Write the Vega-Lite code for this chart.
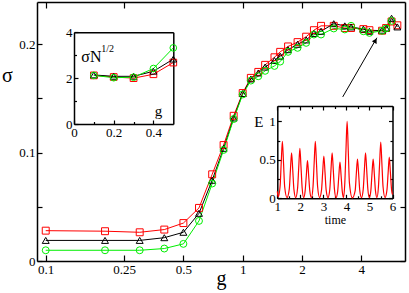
{
"$schema":"https://vega.github.io/schema/vega-lite/v6.json",
"width":368,"height":259,"autosize":"none",
"padding":{"left":37,"top":2,"right":4,"bottom":32},
"config":{"view":{"stroke":null},"font":"Liberation Serif, Times New Roman, serif","axis":{"grid":false,"labelFont":"Liberation Serif, Times New Roman, serif","titleFont":"Liberation Serif, Times New Roman, serif","labelFontSize":13,"labelColor":"#000","titleColor":"#000","titleFontWeight":"normal","domainColor":"#000","tickColor":"#000","domainWidth":1.5,"tickWidth":1.2,"labelFlush":false,"labelOverlap":false},"text":{"font":"Liberation Serif, Times New Roman, serif","color":"#000"}},
"datasets":{
"main":[
{"s":"R","g":0.1,"sigma":0.028},{"s":"R","g":0.2,"sigma":0.0275},{"s":"R","g":0.3,"sigma":0.0265},{"s":"R","g":0.4,"sigma":0.029},{"s":"R","g":0.5,"sigma":0.035},{"s":"R","g":0.6,"sigma":0.049},{"s":"R","g":0.7,"sigma":0.08},{"s":"R","g":0.8,"sigma":0.107},{"s":"R","g":0.9,"sigma":0.134},{"s":"R","g":1.0,"sigma":0.155},{"s":"R","g":1.1,"sigma":0.169},{"s":"R","g":1.2,"sigma":0.1745},{"s":"R","g":1.3,"sigma":0.181},{"s":"R","g":1.45,"sigma":0.188},{"s":"R","g":1.55,"sigma":0.193},{"s":"R","g":1.7,"sigma":0.198},{"s":"R","g":1.9,"sigma":0.202},{"s":"R","g":2.1,"sigma":0.207},{"s":"R","g":2.3,"sigma":0.213},{"s":"R","g":2.5,"sigma":0.217},{"s":"R","g":2.9,"sigma":0.217},{"s":"R","g":3.3,"sigma":0.215},{"s":"R","g":3.55,"sigma":0.215},{"s":"R","g":4.1,"sigma":0.214},{"s":"R","g":4.4,"sigma":0.213},{"s":"R","g":5.1,"sigma":0.2125},{"s":"R","g":5.35,"sigma":0.215},{"s":"R","g":5.7,"sigma":0.221},{"s":"R","g":6.1,"sigma":0.2175},
{"s":"B","g":0.1,"sigma":0.019},{"s":"B","g":0.2,"sigma":0.019},{"s":"B","g":0.3,"sigma":0.019},{"s":"B","g":0.4,"sigma":0.0215},{"s":"B","g":0.5,"sigma":0.0265},{"s":"B","g":0.6,"sigma":0.044},{"s":"B","g":0.7,"sigma":0.0745},{"s":"B","g":0.8,"sigma":0.104},{"s":"B","g":0.9,"sigma":0.132},{"s":"B","g":1.0,"sigma":0.1545},{"s":"B","g":1.1,"sigma":0.168},{"s":"B","g":1.2,"sigma":0.1735},{"s":"B","g":1.3,"sigma":0.179},{"s":"B","g":1.45,"sigma":0.185},{"s":"B","g":1.55,"sigma":0.189},{"s":"B","g":1.7,"sigma":0.195},{"s":"B","g":1.9,"sigma":0.2},{"s":"B","g":2.1,"sigma":0.204},{"s":"B","g":2.3,"sigma":0.21},{"s":"B","g":2.5,"sigma":0.212},{"s":"B","g":2.9,"sigma":0.219},{"s":"B","g":3.3,"sigma":0.217},{"s":"B","g":3.55,"sigma":0.216},{"s":"B","g":4.1,"sigma":0.214},{"s":"B","g":4.4,"sigma":0.212},{"s":"B","g":5.1,"sigma":0.213},{"s":"B","g":5.35,"sigma":0.215},{"s":"B","g":5.7,"sigma":0.224},{"s":"B","g":6.1,"sigma":0.216},
{"s":"G","g":0.1,"sigma":0.0099},{"s":"G","g":0.2,"sigma":0.0099},{"s":"G","g":0.3,"sigma":0.0099},{"s":"G","g":0.4,"sigma":0.0115},{"s":"G","g":0.5,"sigma":0.0158},{"s":"G","g":0.6,"sigma":0.037},{"s":"G","g":0.7,"sigma":0.0715},{"s":"G","g":0.8,"sigma":0.1025},{"s":"G","g":0.9,"sigma":0.131},{"s":"G","g":1.0,"sigma":0.1537},{"s":"G","g":1.1,"sigma":0.1665},{"s":"G","g":1.2,"sigma":0.1705},{"s":"G","g":1.3,"sigma":0.1755},{"s":"G","g":1.45,"sigma":0.18},{"s":"G","g":1.55,"sigma":0.184},{"s":"G","g":1.7,"sigma":0.193},{"s":"G","g":1.9,"sigma":0.1967},{"s":"G","g":2.1,"sigma":0.2013},{"s":"G","g":2.3,"sigma":0.209},{"s":"G","g":2.5,"sigma":0.209},{"s":"G","g":2.9,"sigma":0.2146},{"s":"G","g":3.3,"sigma":0.2137},{"s":"G","g":3.55,"sigma":0.217},{"s":"G","g":4.1,"sigma":0.212},{"s":"G","g":4.4,"sigma":0.2105},{"s":"G","g":5.1,"sigma":0.2124},{"s":"G","g":5.35,"sigma":0.2146},{"s":"G","g":5.7,"sigma":0.2216}
],
"ins":[
{"s":"R","g":0.1,"v":2.12},{"s":"R","g":0.2,"v":2.05},{"s":"R","g":0.3,"v":2.0},{"s":"R","g":0.4,"v":2.17},{"s":"R","g":0.5,"v":2.68},
{"s":"B","g":0.1,"v":2.14},{"s":"B","g":0.2,"v":2.08},{"s":"B","g":0.3,"v":2.08},{"s":"B","g":0.4,"v":2.3},{"s":"B","g":0.5,"v":2.83},
{"s":"G","g":0.1,"v":2.12},{"s":"G","g":0.2,"v":2.02},{"s":"G","g":0.3,"v":2.04},{"s":"G","g":0.4,"v":2.42},{"s":"G","g":0.5,"v":3.32}
],
"energy":[
{"t":1.0,"E":0.09},{"t":1.04,"E":0.02},{"t":1.12,"E":0.15},{"t":1.17,"E":0.46},{"t":1.22,"E":0.74},{"t":1.27,"E":0.46},{"t":1.32,"E":0.15},{"t":1.42,"E":0.01},
{"t":1.52,"E":0.12},{"t":1.57,"E":0.37},{"t":1.62,"E":0.59},{"t":1.67,"E":0.37},{"t":1.72,"E":0.12},{"t":1.8,"E":0.01},
{"t":1.88,"E":0.13},{"t":1.93,"E":0.4},{"t":1.98,"E":0.65},{"t":2.03,"E":0.4},{"t":2.08,"E":0.13},{"t":2.145,"E":0.01},
{"t":2.21,"E":0.1},{"t":2.26,"E":0.3},{"t":2.31,"E":0.49},{"t":2.36,"E":0.3},{"t":2.41,"E":0.1},{"t":2.48,"E":0.01},
{"t":2.55,"E":0.15},{"t":2.6,"E":0.46},{"t":2.65,"E":0.74},{"t":2.7,"E":0.46},{"t":2.75,"E":0.15},{"t":2.835,"E":0.01},
{"t":2.92,"E":0.11},{"t":2.97,"E":0.34},{"t":3.02,"E":0.55},{"t":3.07,"E":0.34},{"t":3.12,"E":0.11},{"t":3.2,"E":0.01},
{"t":3.28,"E":0.12},{"t":3.33,"E":0.37},{"t":3.38,"E":0.59},{"t":3.43,"E":0.37},{"t":3.48,"E":0.12},{"t":3.55,"E":0.01},
{"t":3.62,"E":0.09},{"t":3.67,"E":0.29},{"t":3.72,"E":0.47},{"t":3.77,"E":0.29},{"t":3.82,"E":0.09},{"t":3.875,"E":0.01},
{"t":3.93,"E":0.2},{"t":3.98,"E":0.62},{"t":4.03,"E":1.0},{"t":4.08,"E":0.62},{"t":4.13,"E":0.2},{"t":4.255,"E":0.005},
{"t":4.38,"E":0.1},{"t":4.43,"E":0.32},{"t":4.48,"E":0.51},{"t":4.53,"E":0.32},{"t":4.58,"E":0.1},{"t":4.655,"E":0.01},
{"t":4.73,"E":0.12},{"t":4.78,"E":0.37},{"t":4.83,"E":0.59},{"t":4.88,"E":0.37},{"t":4.93,"E":0.12},{"t":4.995,"E":0.01},
{"t":5.06,"E":0.1},{"t":5.11,"E":0.32},{"t":5.16,"E":0.51},{"t":5.21,"E":0.32},{"t":5.26,"E":0.1},{"t":5.325,"E":0.01},
{"t":5.39,"E":0.15},{"t":5.44,"E":0.45},{"t":5.49,"E":0.73},{"t":5.54,"E":0.45},{"t":5.59,"E":0.15},{"t":5.675,"E":0.01},
{"t":5.76,"E":0.11},{"t":5.81,"E":0.33},{"t":5.86,"E":0.535},{"t":5.91,"E":0.33},{"t":5.96,"E":0.11},{"t":6.0,"E":0.05}
]
},
"layer":[
{
"layer":[
{"data":{"name":"main"},"mark":{"type":"line","strokeWidth":1},
"encoding":{
"x":{"field":"g","type":"quantitative","scale":{"type":"log","domain":[0.0903,6.67],"nice":false},
"axis":{"orient":"bottom","values":[0.1,0.25,0.5,1,2,4],"format":"~g","tickSize":-6,"labelPadding":8,"title":"g","titleFontSize":20,"titleBaseline":"alphabetic","titleY":23}},
"y":{"field":"sigma","type":"quantitative","scale":{"domain":[0,0.239],"nice":false},
"axis":{"orient":"left","values":[0,0.05,0.1,0.15,0.2],"format":"~g","labelExpr":"datum.value==0||datum.value==0.1||datum.value==0.2?datum.label:''","tickSize":-5,"labelPadding":7,"title":"σ","titleFontSize":20,"titleAngle":0,"titleX":-30,"titleY":73,"titleAlign":"center","titleBaseline":"middle"}},
"color":{"field":"s","type":"nominal","scale":{"domain":["R","B","G"],"range":["#ff0000","#000000","#00ee00"]},"legend":null}}},
{"data":{"name":"main"},"mark":{"type":"point","filled":false,"strokeWidth":1,"opacity":1,"size":48},
"encoding":{
"x":{"field":"g","type":"quantitative","axis":{"orient":"top","values":[0.1,0.25,1,2,4],"labels":false,"tickSize":-6,"title":null}},
"y":{"field":"sigma","type":"quantitative","axis":{"orient":"right","values":[0,0.05,0.1,0.15,0.2],"labels":false,"tickSize":-5,"title":null}},
"color":{"field":"s","type":"nominal","legend":null},
"shape":{"field":"s","type":"nominal","scale":{"domain":["R","B","G"],"range":["square","triangle-up","circle"]},"legend":null}}},
{"data":{"values":[{"g1":3.22,"s1":0.1514,"g2":4.8,"s2":0.206}]},"mark":{"type":"rule","strokeWidth":1,"color":"#000"},
"encoding":{"x":{"field":"g1","type":"quantitative","axis":null},"y":{"field":"s1","type":"quantitative","axis":null},"x2":{"field":"g2"},"y2":{"field":"s2"}}},
{"data":{"values":[{"g":4.72,"sigma":0.2035}]},"mark":{"type":"point","shape":"triangle-up","angle":30,"size":30,"filled":true,"color":"#000","opacity":1},
"encoding":{"x":{"field":"g","type":"quantitative","axis":null},"y":{"field":"sigma","type":"quantitative","axis":null}}}
],
"resolve":{"axis":{"x":"independent","y":"independent"}}
},
{
"layer":[
{"data":{"name":"ins"},"mark":{"type":"line","strokeWidth":1},
"encoding":{
"x":{"field":"g","type":"quantitative","scale":{"domain":[0,0.5],"nice":false,"range":[37,136.3]},
"axis":{"orient":"bottom","offset":-137,"values":[0,0.1,0.2,0.3,0.4],"format":"~g","labelExpr":"datum.value==0||datum.value==0.2||datum.value==0.4?datum.label:''","tickSize":{"condition":{"test":"datum.value==0.1||datum.value==0.3","value":-2.5},"value":-4},"labelPadding":6,"title":null}},
"y":{"field":"v","type":"quantitative","scale":{"domain":[0,4],"nice":false,"range":[122,30.3]},
"axis":{"orient":"left","offset":-37,"values":[0,1,2,3,4],"format":"~g","labelExpr":"datum.value%2==0?datum.label:''","tickSize":{"condition":{"test":"datum.value%2==1","value":-2.5},"value":-4},"labelPadding":6,"title":null}},
"color":{"field":"s","type":"nominal","legend":null}}},
{"data":{"name":"ins"},"mark":{"type":"point","filled":false,"strokeWidth":1,"opacity":1,"size":45},
"encoding":{
"x":{"field":"g","type":"quantitative","axis":{"orient":"top","offset":-30.3,"ticks":false,"labels":false,"title":null}},
"y":{"field":"v","type":"quantitative","axis":{"orient":"right","offset":-231.7,"ticks":false,"labels":false,"title":null}},
"color":{"field":"s","type":"nominal","legend":null},
"shape":{"field":"s","type":"nominal","legend":null}}},
{"data":{"values":[{}]},"mark":{"type":"text","text":"σN","fontSize":16,"align":"left","baseline":"middle"},
"encoding":{"x":{"datum":0.037,"type":"quantitative","axis":null},"y":{"datum":2.93,"type":"quantitative","axis":null}}},
{"data":{"values":[{}]},"mark":{"type":"text","text":"1/2","fontSize":10,"align":"left","baseline":"middle"},
"encoding":{"x":{"datum":0.137,"type":"quantitative","axis":null},"y":{"datum":3.29,"type":"quantitative","axis":null}}},
{"data":{"values":[{}]},"mark":{"type":"text","text":"g","fontSize":15,"align":"center","baseline":"middle"},
"encoding":{"x":{"datum":0.425,"type":"quantitative","axis":null},"y":{"datum":0.55,"type":"quantitative","axis":null}}}
],
"resolve":{"axis":{"x":"independent","y":"independent"}}
},
{
"layer":[
{"data":{"name":"energy"},"mark":{"type":"line","strokeWidth":1.2,"color":"#ff0000","interpolate":"monotone"},
"encoding":{
"x":{"field":"t","type":"quantitative","scale":{"domain":[1,6],"nice":false,"range":[240.3,355.5]},
"axis":{"orient":"bottom","offset":-62.7,"values":[1,1.5,2,2.5,3,3.5,4,4.5,5,5.5,6],"format":"~g","labelExpr":"datum.value%1==0?datum.label:''","tickSize":{"condition":{"test":"datum.value%1!=0","value":-2.5},"value":-4},"labelPadding":6,"title":"time","titleFontSize":12,"titleBaseline":"alphabetic","titleY":24.7}},
"y":{"field":"E","type":"quantitative","scale":{"domain":[0,1.2],"nice":false,"range":[196.3,104]},
"axis":{"orient":"left","offset":-240.3,"values":[0,0.25,0.5,0.75,1],"format":"~g","labelExpr":"datum.value==0||datum.value==0.5||datum.value==1?datum.label:''","tickSize":{"condition":{"test":"datum.value==0.25||datum.value==0.75","value":-2.5},"value":-4},"labelPadding":6,"title":"E","titleFontSize":15,"titleAngle":0,"titleX":-19,"titleY":119.5,"titleAlign":"center","titleBaseline":"middle"}}}},
{"data":{"name":"energy"},"mark":{"type":"line","opacity":0},
"encoding":{
"x":{"field":"t","type":"quantitative","axis":{"orient":"top","offset":-104,"values":[1,1.5,2,2.5,3,3.5,4,4.5,5,5.5,6],"labels":false,"tickSize":{"condition":{"test":"datum.value%1!=0","value":-2.5},"value":-4},"title":null}},
"y":{"field":"E","type":"quantitative","axis":{"orient":"right","offset":-12.5,"values":[0,0.25,0.5,0.75,1],"labels":false,"tickSize":{"condition":{"test":"datum.value==0.25||datum.value==0.75","value":-2.5},"value":-4},"title":null}}}}
],
"resolve":{"axis":{"x":"independent","y":"independent"}}
}
],
"resolve":{"scale":{"x":"independent","y":"independent"},"axis":{"x":"independent","y":"independent"}}
}
